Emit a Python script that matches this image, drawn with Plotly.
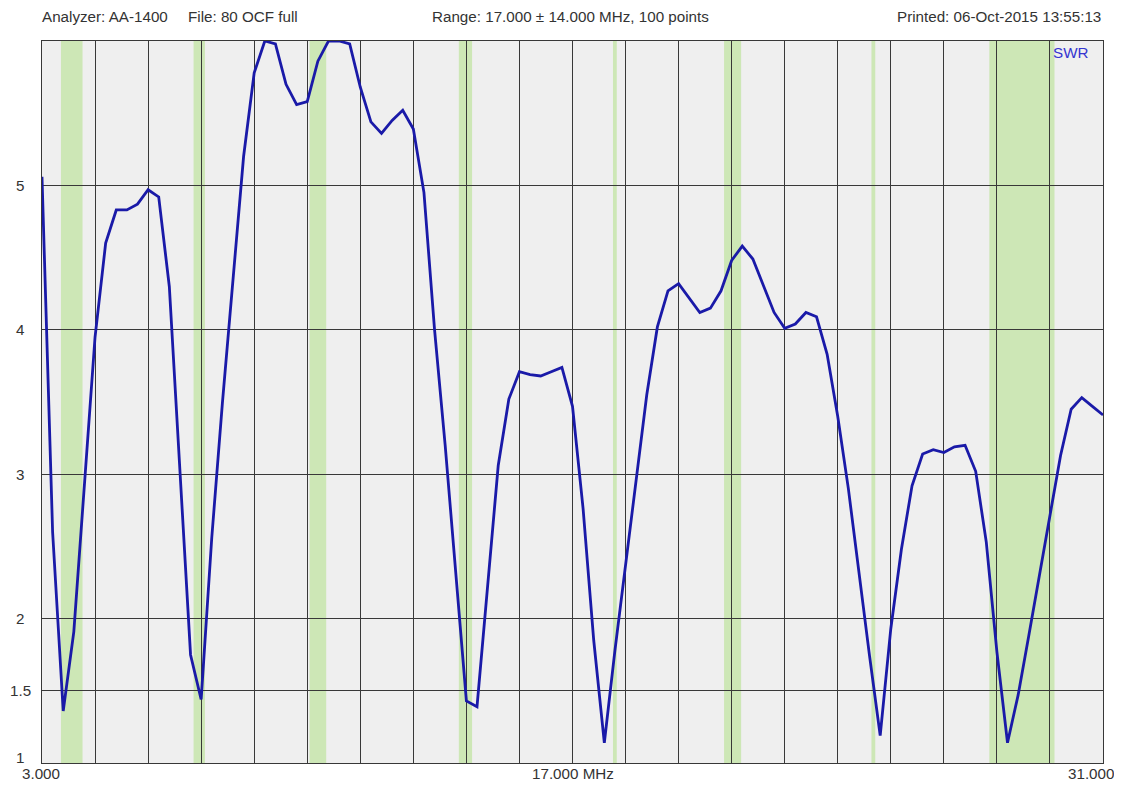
import plotly.graph_objects as go

# ---- data ----
f_start = 3.0
f_step = 0.28  # MHz per sample (17.000 ± 14.000 MHz, 100 intervals)
swr = [5.06, 2.60, 1.36, 1.91, 2.93, 3.95, 4.60, 4.83, 4.83, 4.87,
       4.97, 4.92, 4.30, 3.02, 1.75, 1.44, 2.56, 3.49, 4.32, 5.20,
       5.78, 6.00, 5.98, 5.70, 5.56, 5.58, 5.86, 6.00, 6.00, 5.98,
       5.68, 5.44, 5.36, 5.45, 5.52, 5.39, 4.95, 4.00, 3.20, 2.34,
       1.43, 1.39, 2.24, 3.06, 3.52, 3.71, 3.69, 3.68, 3.71, 3.74,
       3.47, 2.76, 1.85, 1.14, 1.78, 2.37, 2.98, 3.55, 4.02, 4.27,
       4.32, 4.22, 4.12, 4.15, 4.27, 4.48, 4.58, 4.49, 4.31, 4.12,
       4.01, 4.04, 4.12, 4.09, 3.83, 3.40, 2.90, 2.31, 1.74, 1.19,
       1.93, 2.48, 2.92, 3.14, 3.17, 3.15, 3.19, 3.20, 3.02, 2.53,
       1.77, 1.14, 1.47, 1.88, 2.29, 2.71, 3.13, 3.45, 3.53, 3.47,
       3.41]
freqs = [round(f_start + f_step * i, 3) for i in range(len(swr))]

band_lo = [3.5, 7.0, 10.06, 14.0, 18.068, 21.0, 24.89, 28.0]
band_hi = [4.07, 7.3, 10.5, 14.35, 18.168, 21.45, 24.99, 29.72]

y_ticks = [1, 1.5, 2, 3, 4, 5]
y_tick_labels = ["1", "1.5", "2", "3", "4", "5"]
x_labels = ["3.000", "17.000 MHz", "31.000"]

header_left = ["Analyzer: AA-1400", "File: 80 OCF full"]
header_mid = "Range: 17.000 \u00b1 14.000 MHz, 100 points"
header_right = "Printed: 06-Oct-2015 13:55:13"

FONT = "Liberation Sans, Arial, sans-serif"
FS = 15.2
TXT = "#333333"
GRID = "#383838"

fig = go.Figure()
fig.add_trace(go.Scatter(x=freqs, y=swr, mode="lines",
                         line=dict(color="#1a1aa8", width=2.8),
                         hoverinfo="x+y", showlegend=False))

shapes = []
for lo, hi in zip(band_lo, band_hi):
    shapes.append(dict(type="rect", xref="x", yref="paper", x0=lo, x1=hi,
                       y0=0, y1=1, fillcolor="#cde7b6", line=dict(width=0),
                       layer="below"))

ann = []
for v, t in zip(y_ticks, y_tick_labels):
    ann.append(dict(x=-0.0207, xref="paper", y=v, yref="y", text=t,
                    showarrow=False, xanchor="center", yanchor="middle",
                    yshift=6 if v == 1 else 0,
                    font=dict(family=FONT, size=FS, color=TXT)))
for xp, t in zip([-0.0009, 0.5, 0.9887], x_labels):
    ann.append(dict(x=xp, xref="paper", y=-0.0152, yref="paper", text=t,
                    showarrow=False, xanchor="center", yanchor="middle",
                    font=dict(family=FONT, size=FS, color=TXT)))
ann.append(dict(x=-0.0019, xref="paper", y=1.0346, yref="paper",
                text=header_left[0], showarrow=False, xanchor="left",
                yanchor="middle", font=dict(family=FONT, size=FS, color=TXT)))
ann.append(dict(x=0.1357, xref="paper", y=1.0346, yref="paper",
                text=header_left[1], showarrow=False, xanchor="left",
                yanchor="middle", font=dict(family=FONT, size=FS, color=TXT)))
ann.append(dict(x=0.3657, xref="paper", y=1.0346, yref="paper",
                text=header_mid, showarrow=False, xanchor="left",
                yanchor="middle", font=dict(family=FONT, size=FS, color=TXT)))
ann.append(dict(x=1.0, xref="paper", y=1.0346, yref="paper",
                text=header_right, showarrow=False, xanchor="right",
                yanchor="middle", font=dict(family=FONT, size=FS, color=TXT)))
ann.append(dict(x=0.969, xref="paper", y=0.9834, yref="paper", text="SWR",
                showarrow=False, xanchor="center", yanchor="middle",
                font=dict(family=FONT, size=FS, color="#3535d0")))

# the page body has an 8px default margin, so the figure is offset by 8px
fig.update_layout(
    width=1114, height=780,
    margin=dict(l=34, r=19, t=33, b=25, pad=0),
    paper_bgcolor="white", plot_bgcolor="#efefef",
    shapes=shapes, annotations=ann, showlegend=False,
    xaxis=dict(range=[3, 31], tick0=3, dtick=1.4, showgrid=True,
               gridcolor=GRID, gridwidth=1, showticklabels=False, ticks="",
               zeroline=False, showline=True, linecolor=GRID, linewidth=1,
               mirror=True, fixedrange=True),
    yaxis=dict(range=[1, 6], tickvals=y_ticks, showgrid=True,
               gridcolor=GRID, gridwidth=1, showticklabels=False, ticks="",
               zeroline=False, showline=True, linecolor=GRID, linewidth=1,
               mirror=True, fixedrange=True),
)

fig.write_html("out.html", config={"displayModeBar": False})
